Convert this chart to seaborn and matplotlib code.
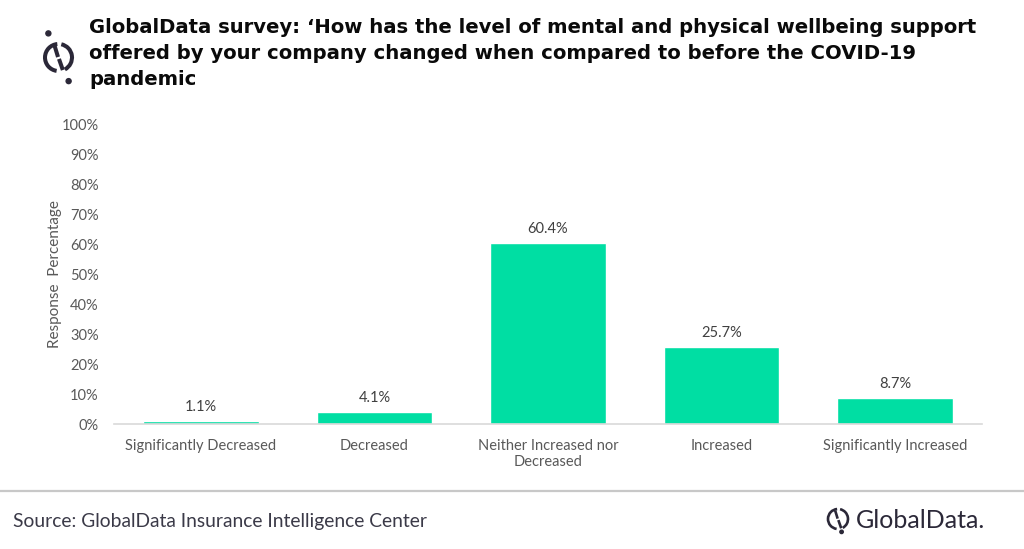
import numpy as np
import pandas as pd
import matplotlib
matplotlib.use("Agg")
import matplotlib.pyplot as plt
from matplotlib.patches import Arc, Circle
from matplotlib.lines import Line2D
import seaborn as sns

# Dados da pesquisa (percentuais de resposta)
categorias = ["Significantly Decreased", "Decreased", "Neither Increased nor\nDecreased",
              "Increased", "Significantly Increased"]
valores = [1.1, 4.1, 60.4, 25.7, 8.7]
ticks_y = [0, 10, 20, 30, 40, 50, 60, 70, 80, 90, 100]

titulo = ("GlobalData survey: \u2018How has the level of mental and physical wellbeing support\n"
          "offered by your company changed when compared to before the COVID-19\n"
          "pandemic")
fonte = "Source: GlobalData Insurance Intelligence Center"

sns.set_theme(style="white")
plt.rcParams['font.family'] = ['Lato', 'DejaVu Sans']

W, H = 1024, 549
fig = plt.figure(figsize=(W / 100, H / 100), dpi=100)
fig.patch.set_facecolor("white")

df = pd.DataFrame({"cat": categorias, "val": valores})

ax = fig.add_axes([114 / W, 1 - 424 / H, (982 - 114) / W, (424 - 125) / H])
sns.barplot(data=df, x="cat", y="val", color="#00DEA3", width=0.665, ax=ax,
            saturation=1)
ax.set_ylim(0, 100)
ax.set_xlim(-0.5, len(categorias) - 0.5)
ax.set_yticks(ticks_y)
ax.set_yticklabels([f"{t}%" for t in ticks_y])
ax.tick_params(axis="y", length=0, pad=11, labelsize=10.5, labelcolor="#595959")
ax.tick_params(axis="x", length=0, pad=11, labelsize=10.5, labelcolor="#595959")
ax.set_xlabel("")
ax.set_ylabel("Response  Percentage", fontsize=11, color="#595959", labelpad=0)
for s in ["top", "right", "left"]:
    ax.spines[s].set_visible(False)
ax.spines["bottom"].set_color("#d9d9d9")
ax.spines["bottom"].set_linewidth(1.2)
ax.grid(False)

for i, v in enumerate(valores):
    ax.annotate(f"{v}%", (i, v), xytext=(0, 5), textcoords="offset points",
                ha="center", va="bottom", fontsize=10.5, color="#404040")

# camada de sobreposição em pixels para título, logos, rodapé
ov = fig.add_axes([0, 0, 1, 1], zorder=-1)
ov.set_xlim(0, W)
ov.set_ylim(0, H)
ov.axis("off")

def Y(y):
    return H - y

ov.text(89, Y(18), titulo, ha="left", va="top", fontsize=14.1, fontweight="bold",
        color="#0a0a0a", family=["DejaVu Sans"], linespacing=1.47)

def logo(cx, cy, r, lw, dots=True, cor="#2b2838"):
    k = r / 14.0
    ov.add_patch(Arc((cx, Y(cy)), 2 * r, 2 * r, theta1=95, theta2=262, lw=lw, color=cor))
    ov.add_patch(Arc((cx, Y(cy)), 2 * r, 2 * r, theta1=-62, theta2=78, lw=lw, color=cor))
    ov.add_line(Line2D([cx - 4 * k, cx - 0.5 * k], [Y(cy - 12 * k), Y(cy - 0.5 * k)],
                       lw=lw, color=cor, solid_capstyle="butt"))
    ov.add_line(Line2D([cx + 0.5 * k, cx + 4.5 * k], [Y(cy + 1.5 * k), Y(cy + 13 * k)],
                       lw=lw, color=cor, solid_capstyle="butt"))
    if dots:
        ov.add_patch(Circle((cx - 10.5 * k, Y(cy - 25 * k)), 2.6 * k, color=cor))
        ov.add_patch(Circle((cx + 10.5 * k, Y(cy + 24.5 * k)), 2.6 * k, color=cor))
    else:
        ov.add_patch(Circle((cx + 5 * k, Y(cy + 18 * k)), 2.4 * k, color=cor))

logo(58.5, 57.5, 13.5, 2.9)
logo(838, 519, 10, 1.9, dots=False)
ov.text(856, Y(521), "GlobalData.", ha="left", va="center", fontsize=18,
        color="#2b2838", family=["Lato", "DejaVu Sans"])

ov.add_line(Line2D([0, W], [Y(491), Y(491)], lw=1.6, color="#c8c8c8"))
ov.text(13, Y(521), fonte, ha="left", va="center", fontsize=13.9, color="#3b3a48")

fig.savefig("out.png", dpi=100)
